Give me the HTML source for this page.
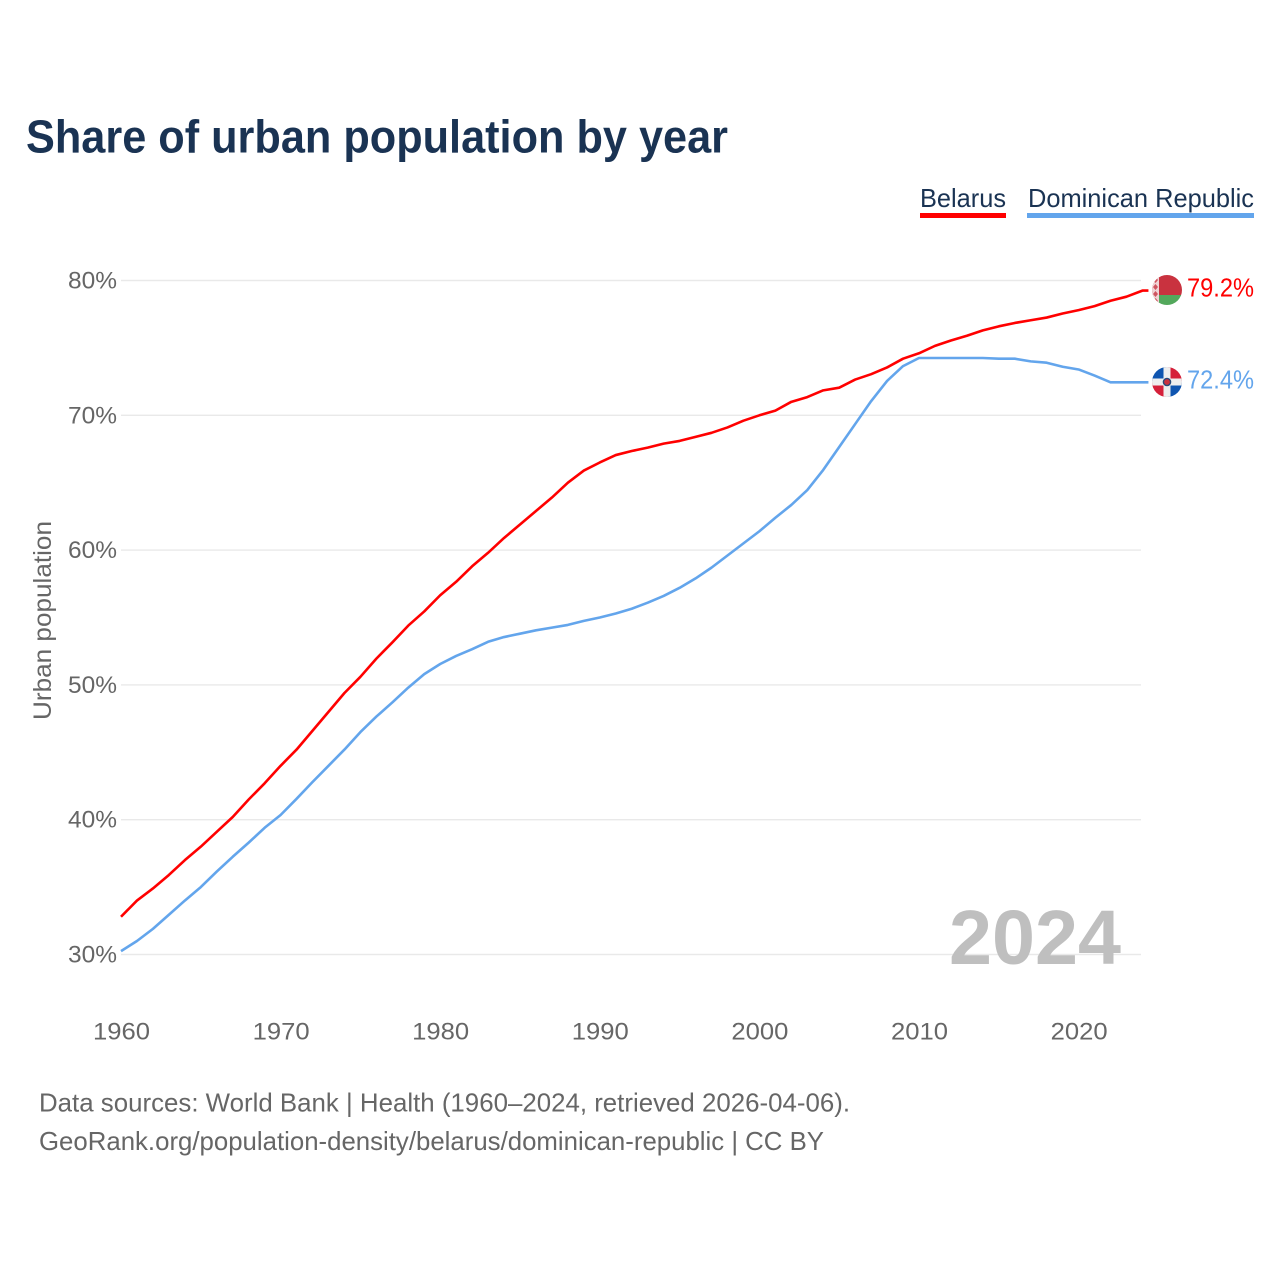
<!DOCTYPE html>
<html lang="en">
<head>
<meta charset="utf-8">
<title>Share of urban population by year</title>
<style>
html,body{margin:0;padding:0;background:#fff;width:1280px;height:1280px;overflow:hidden}
svg{display:block}
text{font-family:"Liberation Sans",sans-serif}
</style>
</head>
<body>
<svg id="chart" xmlns="http://www.w3.org/2000/svg" width="1280" height="1280" viewBox="0 0 1280 1280">
  <rect x="0" y="0" width="1280" height="1280" fill="#fff"/>
  <text x="26" y="152.5" font-size="46" font-weight="700" fill="#1a3353" textLength="702" lengthAdjust="spacingAndGlyphs">Share of urban population by year</text>

  <g>
    <g>
      <text x="920" y="207" font-size="26" fill="#1a3353" textLength="86" lengthAdjust="spacingAndGlyphs">Belarus</text>
      <rect x="920" y="213" width="86" height="5" fill="#ff0000"/>
    </g>
    <g>
      <text x="1028" y="207" font-size="26" fill="#1a3353" textLength="226" lengthAdjust="spacingAndGlyphs">Dominican Republic</text>
      <rect x="1027" y="213" width="227" height="5" fill="#63a5ec"/>
    </g>
  </g>

  <text transform="translate(51 620.5) rotate(-90)" text-anchor="middle" font-size="25" fill="#666" textLength="199" lengthAdjust="spacingAndGlyphs">Urban population</text>

  <g id="grid"></g>
  <g id="y-ticks"></g>
  <g id="x-ticks"></g>

  <text x="1121" y="964" text-anchor="end" font-size="77" font-weight="700" fill="#bfbfbf" textLength="172" lengthAdjust="spacingAndGlyphs">2024</text>

  <g id="series"></g>

  <g>
    <clipPath id="clip-by"><circle cx="1167" cy="290" r="15"/></clipPath>
    <g clip-path="url(#clip-by)">
      <rect x="1152" y="275" width="30" height="21" fill="#c9323f"/>
      <rect x="1152" y="295" width="30" height="10" fill="#53a85c"/>
      <rect x="1152" y="275" width="7" height="30" fill="#f0d4d6"/>
      <path d="M1155.5 277l2.5 3-2.5 3-2.5-3zM1155.5 284l2.5 3-2.5 3-2.5-3zM1155.5 291l2.5 3-2.5 3-2.5-3zM1155.5 298l2.5 3-2.5 3-2.5-3z" fill="#cf5560"/>
    </g>
  </g>
  <g>
    <clipPath id="clip-do"><circle cx="1167" cy="382" r="15"/></clipPath>
    <g clip-path="url(#clip-do)">
      <rect x="1152" y="367" width="15" height="15" fill="#0f55b0"/>
      <rect x="1167" y="367" width="15" height="15" fill="#d5203a"/>
      <rect x="1152" y="382" width="15" height="15" fill="#d5203a"/>
      <rect x="1167" y="382" width="15" height="15" fill="#0f55b0"/>
      <rect x="1152" y="378.5" width="30" height="7" fill="#eeeeee"/>
      <rect x="1163.5" y="367" width="7" height="30" fill="#eeeeee"/>
      <circle cx="1167" cy="382" r="3.6" fill="#c9323f" stroke="#274a7a" stroke-width="1.4"/>
    </g>
  </g>

  <text x="1187" y="296.5" font-size="26" fill="#ff0000" textLength="67" lengthAdjust="spacingAndGlyphs">79.2%</text>
  <text x="1187" y="388.5" font-size="26" fill="#63a5ec" textLength="67" lengthAdjust="spacingAndGlyphs">72.4%</text>

  <text x="39" y="1111.5" font-size="26" fill="#666" textLength="811" lengthAdjust="spacingAndGlyphs">Data sources: World Bank | Health (1960–2024, retrieved 2026-04-06).</text>
  <text x="39" y="1150" font-size="26" fill="#666" textLength="785" lengthAdjust="spacingAndGlyphs">GeoRank.org/population-density/belarus/dominican-republic | CC BY</text>
</svg>

<script>
const years = [1960,1961,1962,1963,1964,1965,1966,1967,1968,1969,1970,1971,1972,1973,1974,1975,1976,1977,1978,1979,1980,1981,1982,1983,1984,1985,1986,1987,1988,1989,1990,1991,1992,1993,1994,1995,1996,1997,1998,1999,2000,2001,2002,2003,2004,2005,2006,2007,2008,2009,2010,2011,2012,2013,2014,2015,2016,2017,2018,2019,2020,2021,2022,2023,2024];
const belarusValues = [32.8,34.0,34.9,35.9,37.0,38.0,39.1,40.2,41.5,42.7,44.0,45.2,46.6,48.0,49.4,50.6,51.95,53.15,54.4,55.45,56.65,57.65,58.8,59.8,60.9,61.9,62.9,63.9,65.0,65.9,66.5,67.05,67.35,67.6,67.9,68.1,68.4,68.7,69.1,69.6,70.0,70.35,71.0,71.35,71.85,72.05,72.65,73.05,73.55,74.2,74.6,75.15,75.55,75.9,76.3,76.6,76.85,77.05,77.25,77.55,77.8,78.1,78.5,78.8,79.25];
const dominicanValues = [30.25,31.0,31.9,32.95,34.0,35.0,36.15,37.25,38.3,39.4,40.35,41.55,42.8,44.0,45.2,46.5,47.65,48.7,49.8,50.8,51.55,52.15,52.65,53.2,53.55,53.8,54.05,54.25,54.45,54.75,55.0,55.3,55.65,56.1,56.6,57.2,57.9,58.7,59.6,60.5,61.4,62.4,63.35,64.45,65.95,67.65,69.35,71.05,72.55,73.65,74.25,74.25,74.25,74.25,74.25,74.2,74.2,74.0,73.9,73.6,73.4,72.95,72.45,72.45,72.45];
const yTickValues = [30,40,50,60,70,80];
const yTickLabels = ["30%","40%","50%","60%","70%","80%"];
const xTickValues = [1960,1970,1980,1990,2000,2010,2020];
const xTickLabels = ["1960","1970","1980","1990","2000","2010","2020"];

const NS = "http://www.w3.org/2000/svg";
function xScale(year){ return 121 + (year - 1960) * 15.96; }
function yScale(value){ return 954.5 - (value - 30) * 13.48; }
function make(tag, attrs, parent){
  const el = document.createElementNS(NS, tag);
  for (const k in attrs) el.setAttribute(k, attrs[k]);
  parent.appendChild(el);
  return el;
}

const gridGroup = document.getElementById("grid");
const yTickGroup = document.getElementById("y-ticks");
yTickValues.forEach(function(v, i){
  const line = make("line", {x1:121, x2:1141, y1:yScale(v), y2:yScale(v), stroke:"#e9e9e9", "stroke-width":1.4}, gridGroup);
  
  
  const label = make("text", {x:117, y:yScale(v)+8, "text-anchor":"end", "font-size":24, fill:"#666", textLength:49, lengthAdjust:"spacingAndGlyphs"}, yTickGroup);
  
  
  label.textContent = yTickLabels[i];
});

const xTickGroup = document.getElementById("x-ticks");
xTickValues.forEach(function(v, i){
  const label = make("text", {x:xScale(v)+0.5, y:1039.5, "text-anchor":"middle", "font-size":24, fill:"#666", textLength:57, lengthAdjust:"spacingAndGlyphs"}, xTickGroup);
  
  
  label.textContent = xTickLabels[i];
});

function linePoints(values){
  const pts = values.map(function(v, i){ return xScale(years[i]).toFixed(2) + "," + yScale(v).toFixed(2); });
  pts.push((xScale(years[years.length-1]) + 6).toFixed(2) + "," + yScale(values[values.length-1]).toFixed(2));
  return pts.join(" ");
}
const seriesGroup = document.getElementById("series");

const belarusLine = make("polyline", {points:linePoints(belarusValues), fill:"none", stroke:"#ff0000", "stroke-width":2.6, "stroke-linejoin":"round"}, seriesGroup);



const dominicanLine = make("polyline", {points:linePoints(dominicanValues), fill:"none", stroke:"#63a5ec", "stroke-width":2.6, "stroke-linejoin":"round"}, seriesGroup);


</script>
</body>
</html>
